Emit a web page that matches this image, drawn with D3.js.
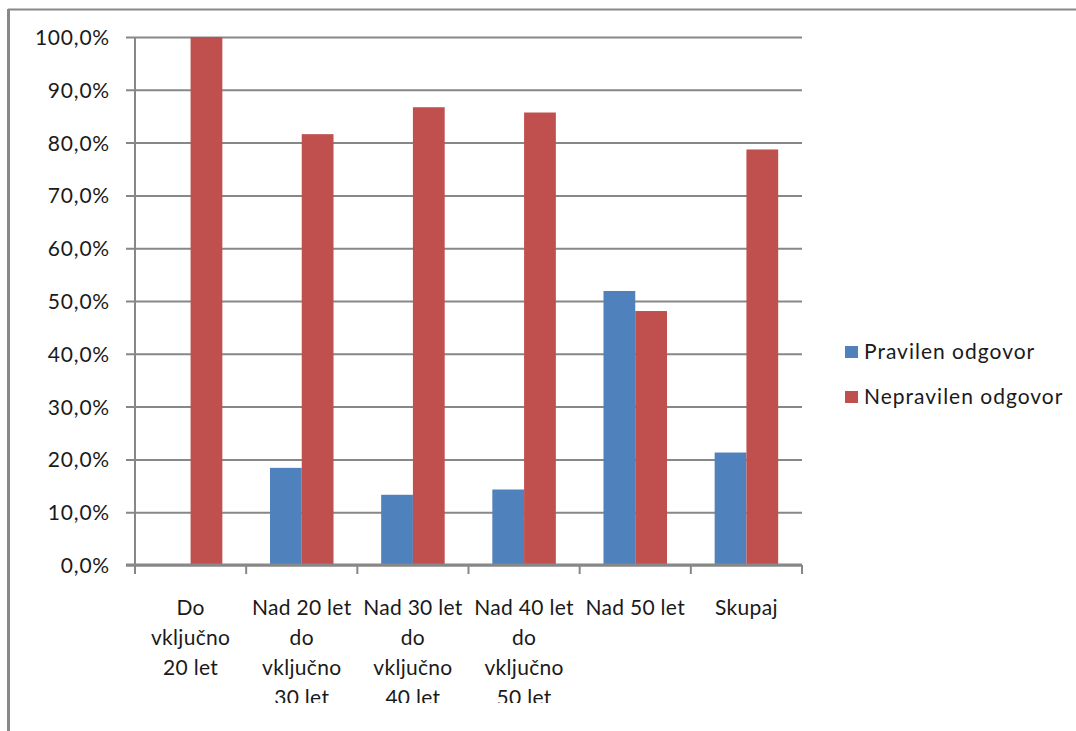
<!DOCTYPE html>
<html>
<head>
<meta charset="utf-8">
<script src="https://cdn.jsdelivr.net/npm/d3@7"></script>
<style>
  html, body { margin: 0; padding: 0; background: #fff; }
  svg { display: block; font-family: Lato, "Open Sans", sans-serif; }
</style>
</head>
<body>
<svg id="chart" width="1076" height="731"></svg>
<script>
// Age groups (each label broken into its printed lines)
const categories = [
  "Do\nvključno\n20 let",
  "Nad 20 let\ndo\nvključno\n30 let",
  "Nad 30 let\ndo\nvključno\n40 let",
  "Nad 40 let\ndo\nvključno\n50 let",
  "Nad 50 let",
  "Skupaj"
];
const seriesNames = ["Pravilen odgovor", "Nepravilen odgovor"];
// Share of answers in percent
const pravilen   = [0, 18.4, 13.3, 14.3, 51.9, 21.3];
const nepravilen = [100, 81.6, 86.7, 85.7, 48.1, 78.7];
const yTicks = [0, 10, 20, 30, 40, 50, 60, 70, 80, 90, 100];

const colors = ["#4F81BD", "#C0504D"];
const series = [pravilen, nepravilen];

const svg = d3.select("#chart");
const plot = { left: 135, right: 802, top: 37, bottom: 565 };

// Outer frame of the chart (top and left edges)
svg.append("line").attr("x1", 8).attr("x2", 1076).attr("y1", 9.5).attr("y2", 9.5)
  .attr("stroke", "#888").attr("stroke-width", 2);
svg.append("line").attr("x1", 8.5).attr("x2", 8.5).attr("y1", 9).attr("y2", 731)
  .attr("stroke", "#888").attr("stroke-width", 3);

const x = d3.scaleBand().domain(d3.range(categories.length))
  .range([plot.left, plot.right]).paddingInner(0).paddingOuter(0);
const bw = x.bandwidth() / 3.5;
const xs = d3.scaleBand().domain(d3.range(series.length))
  .range([x.bandwidth() / 2 - bw, x.bandwidth() / 2 + bw]);
const y = d3.scaleLinear().domain([0, 100]).range([plot.bottom, plot.top]);

// Horizontal gridlines with the value axis
const fmt = v => d3.format(".1f")(v).replace(".", ",") + "%";
const yAxis = d3.axisLeft(y).tickValues(yTicks).tickFormat(fmt)
  .tickSize(-(plot.right - plot.left)).tickPadding(16);
const gy = svg.append("g").attr("transform", `translate(${plot.left},0)`).call(yAxis);
gy.select(".domain").remove();
gy.selectAll(".tick line").attr("stroke", "#878787").attr("stroke-width", 2)
  .attr("x1", -9);
gy.selectAll(".tick text").attr("fill", "#1a1a1a").attr("font-size", 21)
  .attr("font-family", "Lato, sans-serif").attr("letter-spacing", "0.8px")
  .attr("x", -25).attr("dy", "0.36em");

// Vertical value-axis line
svg.append("line").attr("x1", plot.left).attr("x2", plot.left)
  .attr("y1", plot.top).attr("y2", plot.bottom)
  .attr("stroke", "#878787").attr("stroke-width", 2);

// Bars
series.forEach((vals, si) => {
  svg.append("g").selectAll("rect").data(vals).join("rect")
    .attr("x", (d, i) => x(i) + xs(si))
    .attr("width", xs.bandwidth())
    .attr("y", d => y(d))
    .attr("height", d => y(0) - y(d))
    .attr("fill", colors[si]);
});

// Category axis
const xAxis = d3.axisBottom(x).tickSize(0).tickFormat("");
const gx = svg.append("g").attr("transform", `translate(0,${plot.bottom})`).call(xAxis);
gx.select(".domain").attr("stroke", "#878787").attr("stroke-width", 3)
  .attr("d", `M${plot.left - 9},0H${plot.right}`);
gx.selectAll(".tick").remove();
const boundaries = d3.range(categories.length + 1).map(i =>
  i < categories.length ? x(i) : x(i - 1) + x.bandwidth());
svg.append("g").selectAll("line").data(boundaries).join("line")
  .attr("x1", d => d).attr("x2", d => d)
  .attr("y1", plot.bottom).attr("y2", plot.bottom + 9)
  .attr("stroke", "#878787").attr("stroke-width", 2);

// Category labels, clipped at the lower edge of the chart
svg.append("clipPath").attr("id", "labelClip")
  .append("rect").attr("x", 0).attr("y", 0).attr("width", 1076).attr("height", 703);
const labels = svg.append("g").attr("clip-path", "url(#labelClip)");
categories.forEach((c, i) => {
  const cx = x(i) + x.bandwidth() / 2;
  const t = labels.append("text")
    .attr("x", cx)
    .attr("y", 615)
    .attr("text-anchor", "middle")
    .attr("font-size", 21)
    .attr("letter-spacing", "0.3px")
    .attr("fill", "#1a1a1a");
  c.split("\n").forEach((line, li) => {
    t.append("tspan").attr("x", cx)
      .attr("dy", li === 0 ? 0 : 30).text(line);
  });
});

// Legend
const legend = svg.append("g");
seriesNames.forEach((name, si) => {
  const ly = 352 + si * 45;
  legend.append("rect").attr("x", 845).attr("y", ly - 6).attr("width", 13).attr("height", 12)
    .attr("fill", colors[si]);
  legend.append("text").attr("x", 864).attr("y", ly).attr("dy", "0.35em")
    .attr("font-size", 21).attr("letter-spacing", "1px")
    .attr("fill", "#1a1a1a").text(name);
});
</script>
</body>
</html>
